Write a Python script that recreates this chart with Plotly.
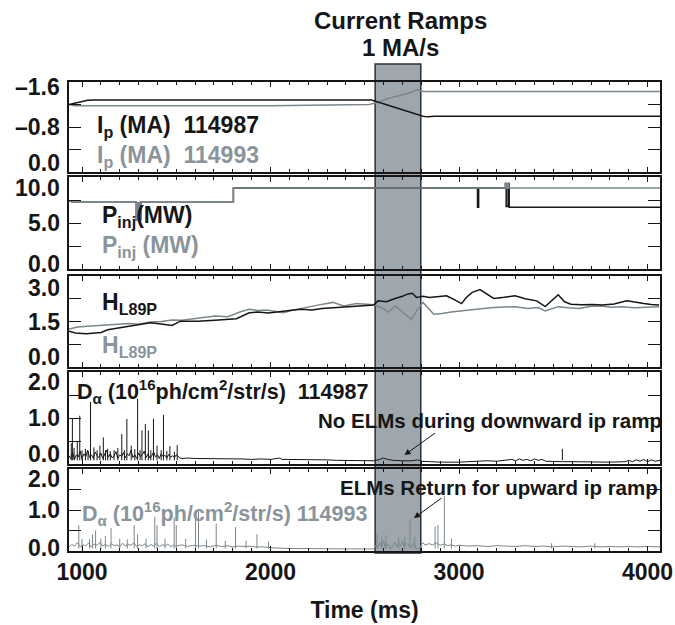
import plotly.graph_objects as go

# ---------------- data ----------------
# Panel 1: plasma current (MA)
ip_t_114987 = [931, 965, 1000, 1030, 1056, 1500, 2000, 2536, 2809, 2832, 2870, 3500, 4066]
ip_v_114987 = [-1.20, -1.23, -1.26, -1.275, -1.28, -1.28, -1.28, -1.28, -0.99, -0.98, -0.99, -0.99, -0.99]
ip_t_114993 = [931, 960, 1500, 2000, 2524, 2570, 2615, 2650, 2695, 2740, 2775, 2809, 3500, 4066]
ip_v_114993 = [-1.20, -1.18, -1.18, -1.18, -1.20, -1.24, -1.30, -1.33, -1.36, -1.41, -1.46, -1.43, -1.43, -1.43]

# Panel 2: injected power (MW), step traces
pinj_t_114987 = [931, 945, 1288, 1296, 1304, 1312, 1803, 3098, 3104, 3246, 3250, 3260, 3266, 4066]
pinj_v_114987 = [7.4, 7.3, 5.3, 7.2, 5.4, 7.3, 8.8, 6.7, 8.8, 9.3, 6.8, 9.3, 6.7, 6.7]
pinj_t_114993 = [931, 945, 1288, 1292, 1296, 1300, 1304, 1310, 1803, 3246, 3252, 3258, 3264, 4066]
pinj_v_114993 = [7.4, 7.3, 5.3, 7.2, 5.4, 7.2, 5.3, 7.3, 8.8, 9.3, 8.8, 9.3, 8.8, 8.8]

# Panel 3: H_L89P
h_t_114987 = [931, 965, 1022, 1102, 1136, 1180, 1250, 1300, 1363, 1420, 1477, 1523, 1614, 1705, 1760,
              1819, 1887, 1932, 1990, 2046, 2100, 2160, 2220, 2274, 2330, 2388, 2450, 2501, 2547, 2570,
              2615, 2661, 2700, 2729, 2752, 2775, 2809, 2843, 2890, 2934, 2975, 3013, 3040, 3070, 3111,
              3150, 3184, 3240, 3298, 3350, 3412, 3457, 3526, 3560, 3594, 3650, 3708, 3760, 3822, 3890,
              3940, 3981, 4020, 4061]
h_v_114987 = [1.18, 1.12, 1.10, 1.14, 1.23, 1.27, 1.34, 1.38, 1.46, 1.42, 1.37, 1.51, 1.51, 1.54, 1.56,
              1.59, 1.79, 1.81, 1.78, 1.81, 1.86, 1.90, 1.88, 1.93, 1.95, 1.96, 1.99, 2.01, 2.04, 2.18,
              2.15, 2.26, 2.33, 2.41, 2.43, 2.29, 2.33, 2.29, 2.31, 2.35, 2.22, 2.09, 2.30, 2.46, 2.55,
              2.40, 2.26, 2.30, 2.35, 2.25, 2.18, 1.99, 2.38, 2.15, 2.07, 2.05, 2.06, 2.04, 2.08, 2.18,
              2.12, 2.09, 2.06, 2.04]
h_t_114993 = [931, 977, 1030, 1090, 1160, 1250, 1300, 1363, 1420, 1477, 1530, 1591, 1650, 1705, 1773,
              1841, 1887, 1932, 1978, 2020, 2069, 2110, 2160, 2210, 2251, 2331, 2388, 2456, 2547, 2590,
              2627, 2661, 2700, 2747, 2780, 2809, 2866, 2910, 2957, 3020, 3070, 3130, 3184, 3250, 3298,
              3366, 3420, 3457, 3526, 3580, 3639, 3700, 3753, 3810, 3867, 3930, 3981, 4061]
h_v_114993 = [1.25, 1.32, 1.34, 1.37, 1.40, 1.43, 1.41, 1.48, 1.50, 1.55, 1.54, 1.59, 1.63, 1.68, 1.66,
              1.82, 1.90, 1.86, 1.88, 1.84, 1.79, 1.86, 1.93, 1.98, 2.04, 2.13, 2.01, 2.09, 2.05, 1.95,
              1.81, 2.01, 1.80, 1.57, 1.90, 2.13, 1.74, 1.76, 1.81, 1.86, 1.90, 1.93, 1.96, 1.97, 1.99,
              1.93, 1.96, 1.85, 1.99, 1.95, 1.93, 2.00, 2.01, 1.97, 1.99, 1.95, 1.96, 1.99]

# Panel 4: D-alpha 114987 (baseline + ELM spikes)
da_t_114987 = [931, 940, 950, 960, 970, 980, 990, 1000, 1010, 1020, 1030, 1040, 1050, 1060, 1070,
               1080, 1090, 1100, 1110, 1120, 1130, 1140, 1150, 1160, 1170, 1180, 1190, 1200, 1210, 1220,
               1230, 1240, 1250, 1260, 1270, 1280, 1290, 1300, 1310, 1320, 1330, 1340, 1350, 1360, 1370,
               1380, 1390, 1400, 1410, 1420, 1430, 1440, 1450, 1460, 1470, 1480, 1490, 1500, 1510, 1520,
               1530, 1560, 1600, 1650, 1700, 1750, 1800, 1850, 1900, 1950, 2000, 2050, 2060, 2100, 2150,
               2200, 2250, 2300, 2350, 2400, 2450, 2500, 2550, 2580, 2600, 2620, 2650, 2700, 2750, 2780,
               2800, 2850, 2900, 3000, 3050, 3100, 3150, 3200, 3250, 3280, 3300, 3320, 3340, 3360, 3380,
               3400, 3420, 3440, 3460, 3500, 3550, 3600, 3700, 3800, 3880, 3900, 3920, 3940, 3960, 3980,
               4000, 4020, 4040, 4066]
da_v_114987 = [0.18, 0.12, 0.25, 0.10, 0.20, 0.15, 0.28, 0.12, 0.22, 0.16, 0.30, 0.14, 0.20, 0.12, 0.26,
               0.18, 0.14, 0.24, 0.12, 0.20, 0.30, 0.15, 0.22, 0.13, 0.18, 0.27, 0.12, 0.20, 0.16, 0.25,
               0.13, 0.22, 0.18, 0.30, 0.14, 0.20, 0.12, 0.24, 0.16, 0.20, 0.28, 0.14, 0.22, 0.13, 0.18,
               0.26, 0.15, 0.20, 0.12, 0.22, 0.16, 0.19, 0.13, 0.21, 0.15, 0.18, 0.14, 0.20, 0.16, 0.13,
               0.12, 0.13, 0.12, 0.12, 0.11, 0.12, 0.11, 0.11, 0.10, 0.11, 0.10, 0.13, 0.10, 0.10, 0.10,
               0.09, 0.09, 0.09, 0.08, 0.08, 0.08, 0.07, 0.07, 0.10, 0.13, 0.10, 0.08, 0.07, 0.07, 0.09,
               0.06, 0.05, 0.04, 0.04, 0.05, 0.06, 0.07, 0.06, 0.08, 0.10, 0.07, 0.11, 0.08, 0.10, 0.07,
               0.11, 0.08, 0.10, 0.06, 0.05, 0.05, 0.05, 0.04, 0.04, 0.05, 0.08, 0.05, 0.09, 0.06, 0.10,
               0.05, 0.09, 0.06, 0.08]
elm_t_114987 = [943, 949, 958, 975, 988, 1000, 1018, 1032, 1045, 1063, 1080, 1095, 1113, 1125, 1136,
                1150, 1170, 1190, 1211, 1225, 1238, 1261, 1280, 1295, 1308, 1318, 1336, 1352, 1365,
                1379, 1398, 1420, 1432, 1450, 1466, 1490, 1505, 3548]
elm_h_114987 = [0.45, 0.98, 0.35, 0.50, 1.05, 0.30, 0.33, 0.28, 1.35, 0.36, 0.30, 0.40, 0.58, 0.30, 0.33,
                0.28, 0.30, 0.35, 0.65, 0.30, 0.98, 0.40, 0.32, 1.42, 0.30, 0.73, 0.87, 0.73, 0.30,
                0.98, 0.40, 0.30, 1.07, 0.28, 0.39, 0.27, 0.41, 0.33]

# Panel 5: D-alpha 114993
da_t_114993 = [931, 945, 960, 975, 990, 1005, 1020, 1035, 1050, 1065, 1080, 1095, 1110, 1125, 1140,
               1155, 1170, 1185, 1200, 1215, 1230, 1245, 1260, 1275, 1290, 1305, 1320, 1335, 1350, 1365,
               1380, 1395, 1410, 1425, 1440, 1455, 1470, 1485, 1500, 1530, 1560, 1590, 1620, 1650, 1680,
               1710, 1740, 1770, 1800, 1830, 1860, 1890, 1920, 1950, 1960, 2000, 2050, 2100, 2200, 2300,
               2400, 2500, 2550, 2560, 2570, 2580, 2590, 2600, 2610, 2620, 2630, 2640, 2650, 2660, 2670,
               2680, 2690, 2700, 2710, 2720, 2730, 2750, 2760, 2770, 2780, 2790, 2800, 2810, 2820, 2840,
               2860, 2880, 2900, 2920, 2940, 2960, 2980, 3000, 3050, 3100, 3150, 3200, 3250, 3300, 3350,
               3400, 3450, 3500, 3550, 3600, 3650, 3700, 3750, 3800, 3850, 3900, 3950, 4000, 4066]
da_v_114993 = [0.10, 0.16, 0.12, 0.20, 0.11, 0.15, 0.13, 0.19, 0.10, 0.17, 0.14, 0.21, 0.12, 0.16, 0.11,
               0.18, 0.13, 0.15, 0.10, 0.19, 0.12, 0.16, 0.14, 0.20, 0.11, 0.15, 0.13, 0.18, 0.10, 0.16,
               0.12, 0.19, 0.11, 0.15, 0.13, 0.17, 0.10, 0.14, 0.12, 0.15, 0.11, 0.14, 0.12, 0.13, 0.10,
               0.14, 0.11, 0.13, 0.10, 0.12, 0.11, 0.12, 0.10, 0.11, 0.10, 0.08, 0.07, 0.06, 0.06, 0.05,
               0.05, 0.05, 0.05, 0.15, 0.08, 0.20, 0.10, 0.25, 0.07, 0.18, 0.10, 0.05, 0.12, 0.22, 0.10,
               0.20, 0.12, 0.25, 0.10, 0.20, 0.15, 0.10, 0.22, 0.08, 0.05, 0.05, 0.15, 0.20, 0.14, 0.18,
               0.15, 0.20, 0.14, 0.17, 0.13, 0.15, 0.12, 0.14, 0.12, 0.13, 0.11, 0.13, 0.12, 0.11, 0.13,
               0.11, 0.12, 0.10, 0.12, 0.11, 0.10, 0.12, 0.10, 0.11, 0.10, 0.11, 0.10, 0.11, 0.10]
elm_t_114993 = [983, 1000, 1040, 1056, 1072, 1100, 1124, 1154, 1200, 1240, 1277, 1295, 1340, 1386, 1398,
                1440, 1489, 1500, 1550, 1602, 1618, 1660, 1712, 1760, 1814, 1870, 1928, 1989,
                2565, 2590, 2612, 2680, 2712, 2740, 2765, 2873, 2888, 2922, 2960, 3491, 3720]
elm_h_114993 = [0.63, 0.30, 0.28, 0.41, 0.50, 0.30, 0.37, 0.56, 0.30, 0.28, 0.63, 0.41, 0.30, 0.84, 0.63,
                0.30, 0.82, 0.63, 0.30, 0.93, 0.97, 0.28, 0.67, 0.25, 0.58, 0.25, 0.41, 0.23,
                0.40, 0.35, 0.37, 0.33, 0.35, 0.77, 0.35, 0.60, 0.63, 1.34, 0.30, 0.19, 0.19]

ramp_start, ramp_end = 2555, 2797
x_range = [931, 4066]

# ---------------- styling ----------------
BLACK = "#161616"
GREY = "#7b868d"
GREY_TXT = "#8a949b"
FONT = "Liberation Sans, Arial, Helvetica, sans-serif"
FS = 23

W, H = 675, 625
ML, MR, MT, MB = 69, 15, 82, 74
PW, PH = W - ML - MR, H - MT - MB


def py(ypx):
    return (H - MB - ypx) / PH


def px(xpx):
    return (xpx - ML) / PW


panels = [(82, 172), (177, 269), (276, 367), (372, 464), (469, 551)]
y_ranges = [[0, -1.6], [0, 10], [0, 3], [0, 2], [0, 2]]
y_ticks = [[0, -0.4, -0.8, -1.2, -1.6], [0, 2.5, 5, 7.5, 10], [0, 0.75, 1.5, 2.25, 3],
           [0, 0.5, 1, 1.5, 2], [0, 0.5, 1, 1.5, 2]]
y_labels = [[(-1.6, "\u20131.6", -5), (-0.8, "\u20130.8", 0), (0, "0.0", 9)],
            [(10, "10.0", -11), (5, "5.0", 0), (0, "0.0", 5)],
            [(3, "3.0", -12), (1.5, "1.5", 0), (0, "0.0", 10)],
            [(2, "2.0", -10), (1, "1.0", 0), (0, "0.0", 10)],
            [(2, "2.0", -10), (1, "1.0", 0), (0, "0.0", 3)]]

fig = go.Figure()


def line(x, y, color, n, width=1.5, shape="linear"):
    fig.add_trace(go.Scatter(x=x, y=y, mode="lines", line=dict(color=color, width=width, shape=shape),
                             xaxis=f"x{n}" if n > 1 else "x", yaxis=f"y{n}" if n > 1 else "y",
                             showlegend=False, hoverinfo="skip"))


def spikes(ts, hs, base, color, n):
    xs, ys = [], []
    for t, h in zip(ts, hs):
        xs += [t, t, None]
        ys += [base, h, None]
    line(xs, ys, color, n, width=1)


line(ip_t_114993, ip_v_114993, GREY, 1)
line(ip_t_114987, ip_v_114987, BLACK, 1)
line(pinj_t_114987, pinj_v_114987, BLACK, 2, shape="hv")
line(pinj_t_114993, pinj_v_114993, GREY, 2, shape="hv")
line(h_t_114993, h_v_114993, GREY, 3)
line(h_t_114987, h_v_114987, BLACK, 3)
line(da_t_114987, da_v_114987, BLACK, 4, width=1)
spikes(elm_t_114987, elm_h_114987, 0.08, BLACK, 4)
line(da_t_114993, da_v_114993, GREY, 5, width=1)
spikes(elm_t_114993, elm_h_114993, 0.06, GREY, 5)

layout = dict(width=W, height=H, margin=dict(l=ML, r=MR, t=MT, b=MB, autoexpand=False),
              paper_bgcolor="white", plot_bgcolor="rgba(0,0,0,0)",
              font=dict(family=FONT, size=FS, color=BLACK), showlegend=False)

for i, (top, bot) in enumerate(panels):
    n = i + 1
    xa = dict(domain=[0, 1], range=x_range, anchor=f"y{n}" if n > 1 else "y", automargin=False,
              showline=True, linecolor=BLACK, linewidth=1.5, mirror="ticks",
              ticks="inside", ticklen=5, tickwidth=1.2, tickcolor=BLACK,
              tick0=1000, dtick=1000, showgrid=False, zeroline=False,
              minor=dict(ticks="inside", ticklen=3, dtick=100, tickcolor=BLACK, showgrid=False),
              showticklabels=(n == 5), ticklabeloverflow="allow",
              tickfont=dict(family=FONT, size=FS, color=BLACK, weight="bold"))
    if n > 1:
        xa["matches"] = "x"
    if n == 5:
        xa["title"] = dict(text="<b>Time (ms)</b>", font=dict(family=FONT, size=FS, color=BLACK), standoff=18)
    ya = dict(domain=[py(bot), py(top)], range=y_ranges[i], anchor=f"x{n}" if n > 1 else "x",
              automargin=False,
              showline=True, linecolor=BLACK, linewidth=1.5, mirror="ticks",
              ticks="inside", ticklen=12, tickwidth=1.2, tickcolor=BLACK,
              tickvals=y_ticks[i], showticklabels=False, showgrid=False, zeroline=False)
    layout["xaxis" if n == 1 else f"xaxis{n}"] = xa
    layout["yaxis" if n == 1 else f"yaxis{n}"] = ya

fig.update_layout(**layout)

# shaded ramp interval
fig.add_shape(type="rect", xref="x", yref="paper", x0=ramp_start, x1=ramp_end,
              y0=py(553), y1=py(64), fillcolor="#9ea7ae", line=dict(color="#2e2e2e", width=1.5),
              layer="below")

ann = []
for i, labs in enumerate(y_labels):
    n = i + 1
    for v, txt, sh in labs:
        ann.append(dict(xref="paper", yref="y" if n == 1 else f"y{n}", x=0, y=v, xshift=-7, yshift=sh,
                        text=f"<b>{txt}</b>", showarrow=False, xanchor="right", yanchor="middle",
                        font=dict(family=FONT, size=FS, color=BLACK)))


def txt(text, xpx, ypx, color=BLACK, size=FS, xanchor="left"):
    ann.append(dict(xref="paper", yref="paper", x=px(xpx), y=py(ypx), text=f"<b>{text}</b>",
                    showarrow=False, xanchor=xanchor, yanchor="middle",
                    font=dict(family=FONT, size=size, color=color)))


NB = "\u00a0"
txt("Current Ramps", 400, 21, size=24, xanchor="center")
txt("1 MA/s", 401, 48, size=24, xanchor="center")
txt(f"I<sub>p</sub> (MA){NB}{NB}114987", 95, 127)
txt(f"I<sub>p</sub> (MA){NB}{NB}114993", 95, 156, color=GREY_TXT)
txt("P<sub>inj</sub>(MW)", 100, 216)
txt("P<sub>inj</sub> (MW)", 100, 246, color=GREY_TXT)
txt("H<sub>L89P</sub>", 100, 303)
txt("H<sub>L89P</sub>", 100, 346, color=GREY_TXT)
txt(f"D<sub>\u03b1</sub> (10<sup>16</sup>ph/cm<sup>2</sup>/str/s){NB}{NB}114987", 75, 391, size=21.5)
txt("No ELMs during downward ip ramp", 316, 420, size=20.5)
txt("ELMs Return for upward ip ramp", 338, 487, size=20.5)
txt(f"D<sub>\u03b1</sub> (10<sup>16</sup>ph/cm<sup>2</sup>/str/s) 114993", 80, 513, color=GREY_TXT, size=21.5)

# arrows
ann.append(dict(xref="paper", yref="paper", x=px(404.5), y=py(455), ax=32, ay=-23, text="",
                showarrow=True, arrowhead=2, arrowsize=1.2, arrowwidth=1, arrowcolor=BLACK))
ann.append(dict(xref="paper", yref="paper", x=px(414), y=py(518), ax=29, ay=-21, text="",
                showarrow=True, arrowhead=2, arrowsize=1.2, arrowwidth=1, arrowcolor=BLACK))

fig.update_layout(annotations=ann)
fig.write_html("out.html", config={"displayModeBar": False},
               post_script="document.body.style.margin='0px';")
